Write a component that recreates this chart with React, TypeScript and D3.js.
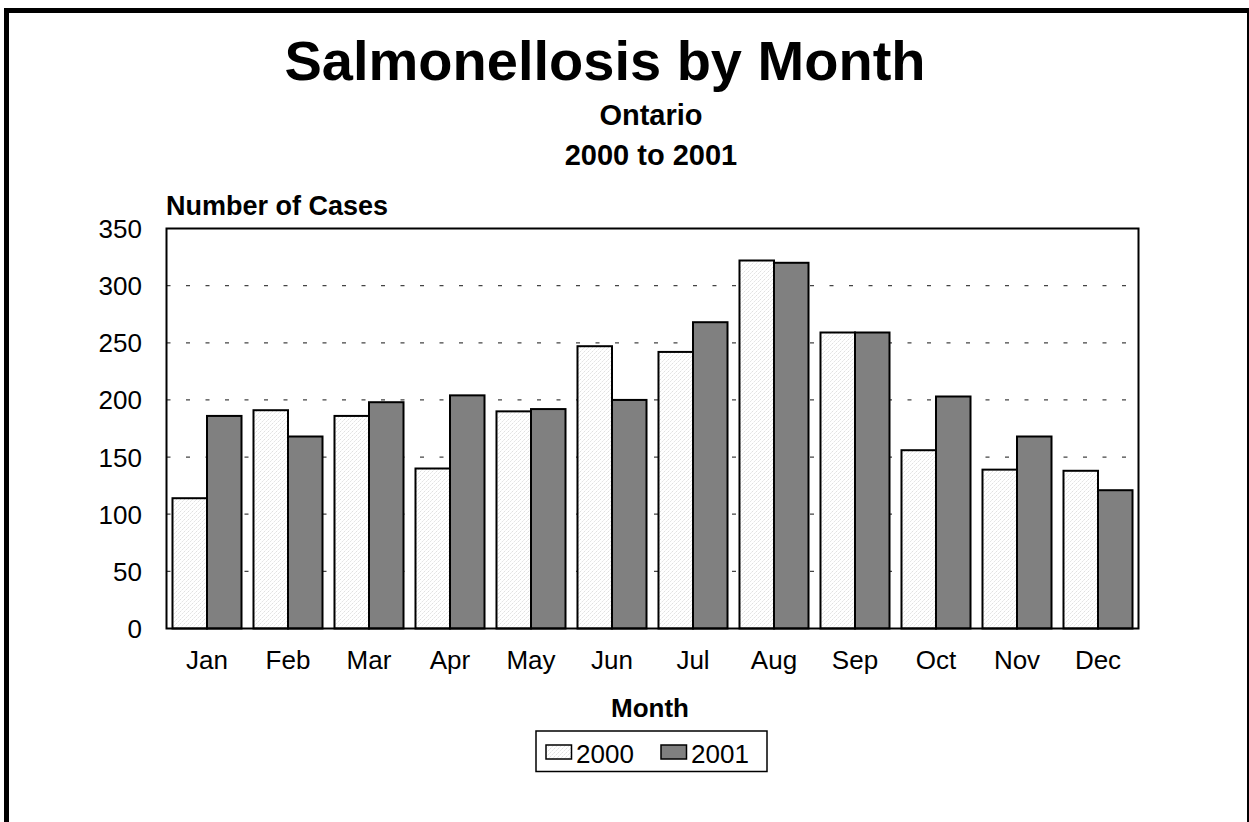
import React from 'react';
import {scaleBand,scaleLinear,range} from 'd3';

// data
const months=["Jan","Feb","Mar","Apr","May","Jun","Jul","Aug","Sep","Oct","Nov","Dec"];
const cases2000=[114,191,186,140,190,247,242,322,259,156,139,138];
const cases2001=[186,168,198,204,192,200,268,320,259,203,168,121];
const seriesNames=["2000","2001"];
const yTicks=[0,50,100,150,200,250,300,350];

const W=1249,H=822;
const plot={left:166.5,right:1138.5,top:228.5,bottom:628.5};
const font="'Liberation Sans', Arial, sans-serif";

const App=()=>{
  const x=scaleBand<string>()
    .domain(months)
    .range([plot.left,plot.right])
    .paddingInner(0.148)
    .paddingOuter(0.074);
  const xs=scaleBand<string>()
    .domain(seriesNames)
    .range([0,x.bandwidth()]);
  const y=scaleLinear()
    .domain([0,350])
    .range([plot.bottom,plot.top]);

  const series=[cases2000,cases2001];
  const fills=["url(#hatch2000)","#808080"];

  return (
    <svg width={W} height={H} style={{position:"absolute",left:0,top:0,background:"#fff"}} fontFamily={font}>
      <defs>
        <pattern id="hatch2000" width={4} height={4} patternUnits="userSpaceOnUse">
          <rect width={4} height={4} fill="#fff"/>
          <path d="M0,4 L4,0 M-1,1 L1,-1 M3,5 L5,3" stroke="#c9c9c9" strokeWidth={0.6} strokeDasharray="1.6 0.8"/>
        </pattern>
      </defs>

      {/* outer frame */}
      <rect x={6.5} y={10.5} width={1243} height={900} fill="none" stroke="#000" strokeWidth={5}/>

      {/* titles */}
      <text x={605} y={80} textAnchor="middle" fontSize={56} fontWeight="bold">Salmonellosis by Month</text>
      <text x={651} y={125} textAnchor="middle" fontSize={29} fontWeight="bold">Ontario</text>
      <text x={651} y={165} textAnchor="middle" fontSize={29} fontWeight="bold">2000 to 2001</text>
      <text x={166} y={215} fontSize={27} fontWeight="bold">Number of Cases</text>

      {/* gridlines */}
      {yTicks.filter(t=>t>0&&t<350).map(t=>(
        <line key={t} x1={plot.left} x2={plot.right} y1={y(t)} y2={y(t)}
          stroke="#444" strokeWidth={1.2} strokeDasharray="4 15.5"/>
      ))}

      {/* bars */}
      {series.map((vals,si)=>(
        <g key={si}>
          {range(months.length).map(i=>(
            <rect key={i}
              x={(x(months[i]) as number)+(xs(seriesNames[si]) as number)}
              y={y(vals[i])}
              width={xs.bandwidth()}
              height={y(0)-y(vals[i])}
              fill={fills[si]} stroke="#000" strokeWidth={2}/>
          ))}
        </g>
      ))}

      {/* plot frame */}
      <rect x={plot.left} y={plot.top} width={plot.right-plot.left} height={plot.bottom-plot.top}
        fill="none" stroke="#000" strokeWidth={2}/>

      {/* y tick labels */}
      {yTicks.map(t=>(
        <text key={t} x={142} y={y(t)+9.5} textAnchor="end" fontSize={26}>{t}</text>
      ))}

      {/* x tick labels */}
      {months.map(m=>(
        <text key={m} x={(x(m) as number)+x.bandwidth()/2} y={668.5} textAnchor="middle" fontSize={26}>{m}</text>
      ))}

      <text x={650} y={716.5} textAnchor="middle" fontSize={26} fontWeight="bold">Month</text>

      {/* legend */}
      <rect x={536} y={731} width={231} height={40.5} fill="#fff" stroke="#000" strokeWidth={1.5}/>
      {seriesNames.map((s,i)=>(
        <g key={s} transform={`translate(${546+i*115},745)`}>
          <rect width={25.5} height={14} fill={fills[i]} stroke="#000" strokeWidth={1.5}/>
          <text x={30} y={17.5} fontSize={26}>{s}</text>
        </g>
      ))}
    </svg>
  );
};

export default App;
